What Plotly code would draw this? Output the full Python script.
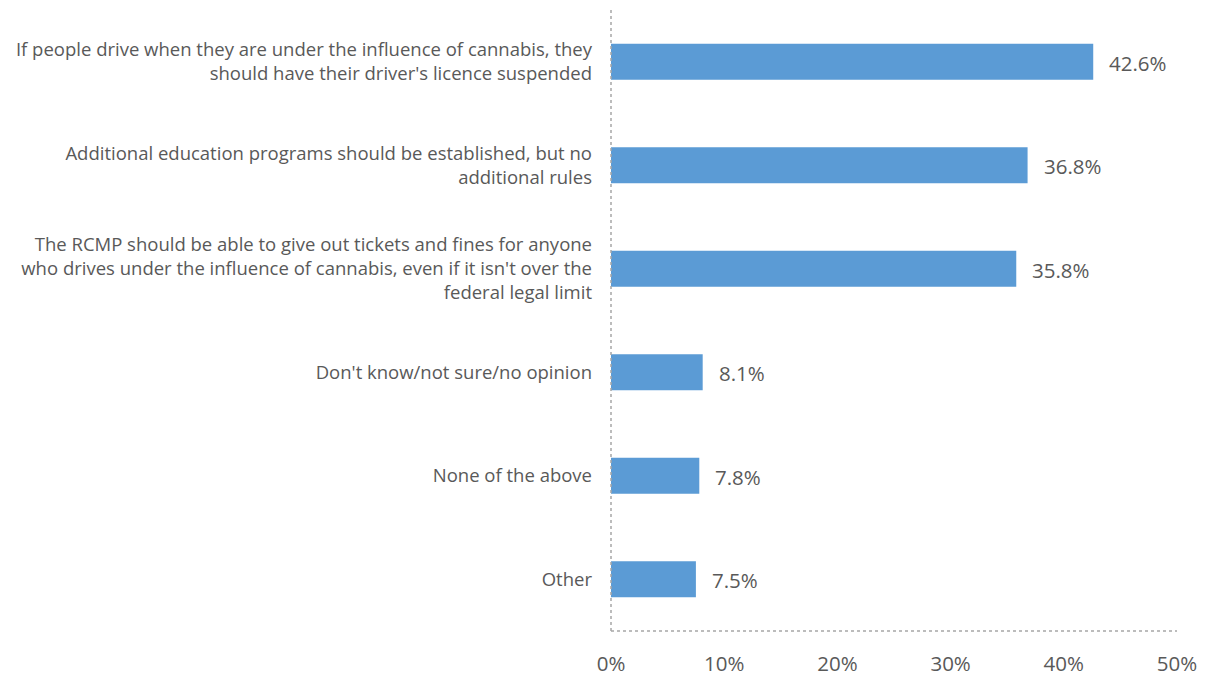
import plotly.graph_objects as go

# Survey responses, top to bottom
categories = [
    "If people drive when they are under the influence of cannabis, they<br>should have their driver's licence suspended",
    "Additional education programs should be established, but no<br>additional rules",
    "The RCMP should be able to give out tickets and fines for anyone<br>who drives under the influence of cannabis, even if it isn't over the<br>federal legal limit",
    "Don't know/not sure/no opinion",
    "None of the above",
    "Other",
]
values = [42.6, 36.8, 35.8, 8.1, 7.8, 7.5]
tick_vals = [0, 10, 20, 30, 40, 50]
tick_text = ["0%", "10%", "20%", "30%", "40%", "50%"]

BAR = "#5b9bd5"
TEXT = "#595959"
AXIS = "#a6a6a6"
FONT = "Open Sans, Calibri, sans-serif"

fig = go.Figure()
fig.add_trace(go.Bar(
    x=values,
    y=categories,
    orientation="h",
    marker=dict(color=BAR, line=dict(width=0)),
    width=0.35,
    hoverinfo="skip",
))

# Value labels just beyond each bar end
for cat, v in zip(categories, values):
    fig.add_annotation(
        x=v, y=cat, xref="x", yref="y",
        text=f"{v:.1f}%", showarrow=False,
        xanchor="left", xshift=14, yshift=-1,
        font=dict(family=FONT, size=20.5, color=TEXT),
    )

# Dotted axis lines along the left and bottom edges of the plot area
fig.add_shape(type="line", xref="paper", yref="paper", x0=0, x1=0, y0=0, y1=1,
              line=dict(color=AXIS, width=1.5, dash="dot"))
fig.add_shape(type="line", xref="paper", yref="paper", x0=0, x1=1, y0=0, y1=0,
              line=dict(color=AXIS, width=1.5, dash="dot"))

fig.update_layout(
    width=1209, height=677,
    margin=dict(l=611, r=32, t=10, b=46),
    paper_bgcolor="white", plot_bgcolor="white",
    showlegend=False,
    bargap=0.65,
    font=dict(family=FONT, color=TEXT),
    xaxis=dict(
        range=[0, 50], tickvals=tick_vals, ticktext=tick_text,
        showgrid=False, zeroline=False, showline=False, ticks="",
        tickfont=dict(family=FONT, size=20.5, color=TEXT),
        ticklabelstandoff=18, fixedrange=True, automargin=False,
    ),
    yaxis=dict(
        autorange="reversed", showgrid=False, zeroline=False, showline=False,
        ticks="", tickfont=dict(family=FONT, size=18.5, color=TEXT),
        ticklabelstandoff=18, fixedrange=True, automargin=False,
    ),
)

fig.write_html("out.html")
